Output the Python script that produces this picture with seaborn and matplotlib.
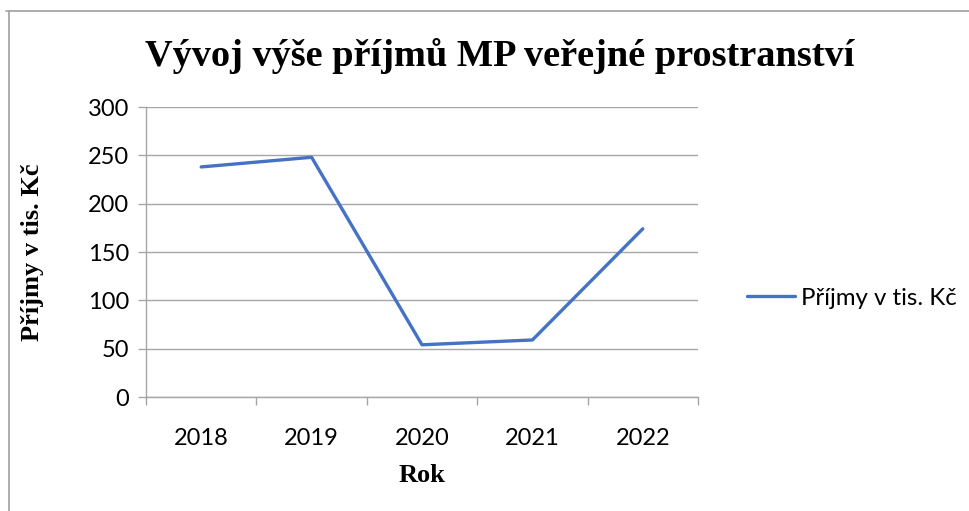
import matplotlib
matplotlib.use("Agg")
import matplotlib.pyplot as plt
from matplotlib.lines import Line2D
import seaborn as sns
import pandas as pd

years = ["2018", "2019", "2020", "2021", "2022"]
income = [238, 248, 54, 59, 174]
series_name = "Příjmy v tis. Kč"
title = "Vývoj výše příjmů MP veřejné prostranství"
xlabel = "Rok"
ylabel = "Příjmy v tis. Kč"
yticks = [0, 50, 100, 150, 200, 250, 300]

sns.set_theme(style="white")
plt.rcParams['font.family'] = ['Lato', 'DejaVu Sans']
plt.rcParams['text.color'] = 'black'
plt.rcParams['axes.labelcolor'] = 'black'

df = pd.DataFrame({"Rok": years, series_name: income})

fig = plt.figure(figsize=(9.7, 5.11), dpi=100)
ax = fig.add_axes([146/970, 1-397/511, 552/970, 290/511])

sns.lineplot(data=df, x="Rok", y=series_name, ax=ax, color="#4472C4",
             linewidth=2.4, label=series_name, sort=False)

grid_c = "#A6A6A6"
ax.set_xlim(-0.5, 4.5)
ax.set_ylim(0, 300)
ax.set_yticks(yticks)
ax.set_yticklabels([str(v) for v in yticks])
ax.yaxis.grid(True, color=grid_c, linewidth=1.0)
ax.xaxis.grid(False)
ax.set_axisbelow(True)
for s in ["top", "right"]:
    ax.spines[s].set_visible(False)
for s in ["left", "bottom"]:
    ax.spines[s].set_color(grid_c)
    ax.spines[s].set_linewidth(1.0)

ax.set_xticks(range(len(years)))
ax.set_xticklabels(years)
ax.set_xticks([i - 0.5 for i in range(len(years) + 1)], minor=True)
ax.tick_params(axis="x", which="major", length=0, pad=22, labelsize=17, labelcolor="black")
ax.tick_params(axis="x", which="minor", length=6, width=1.0, color=grid_c, direction="out", bottom=True)
ax.tick_params(axis="y", which="major", length=6, width=1.0, color=grid_c, direction="out",
               left=True, pad=6, labelsize=17, labelcolor="black")

serif = ['Liberation Serif', 'DejaVu Serif']
ax.set_xlabel(xlabel, fontsize=19, fontweight="bold", family=serif, color="black")
ax.set_ylabel(ylabel, fontsize=19, fontweight="bold", family=serif, color="black")
ax.xaxis.set_label_coords(0.5, -(475-397)/290)
ax.yaxis.set_label_coords(-(146-33)/552, 0.5)
ax.xaxis.label.set_va("center")
ax.yaxis.label.set_va("center")

fig.text(500/970, 1-56/511, title, ha="center", va="center", fontsize=27.6,
         fontweight="bold", family=serif, color="black")

leg = ax.legend(loc="center left", bbox_to_anchor=(1.05, 0.34), frameon=False,
                fontsize=17.3, handlelength=2.0, handletextpad=0.25)
for t in leg.get_texts():
    t.set_color("black")

# chart border (top and left visible)
fig.add_artist(Line2D([6/970, 1], [1-11.5/511, 1-11.5/511], color="#A0A0A0", linewidth=1.2,
                      transform=fig.transFigure))
fig.add_artist(Line2D([9/970, 9/970], [0, 1-11.5/511], color="#A0A0A0", linewidth=1.2,
                      transform=fig.transFigure))

fig.savefig("out.png", dpi=100)
